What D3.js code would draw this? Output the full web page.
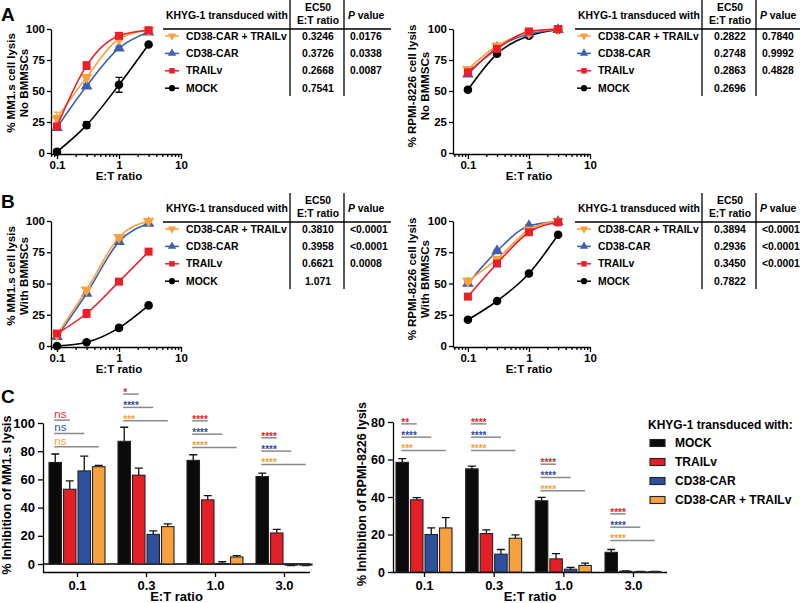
<!DOCTYPE html>
<html>
<head>
<meta charset="utf-8">
<script src="https://cdn.jsdelivr.net/npm/d3@7"></script>
<style>
  body { margin: 0; background: #fff; }
  svg { display: block; }
</style>
</head>
<body>
<svg id="fig" width="800" height="603"></svg>
<script>
// ---- data: dose response (A, B) ----
const ratios = [0.1, 0.3, 1, 3];
const lineSeries = ["CD38-CAR + TRAILv", "CD38-CAR", "TRAILv", "MOCK"];
const lineColors = ["#f8a23f", "#3e5fb2", "#ec1f28", "#000000"];

// rows follow lineSeries order, columns follow ratios
const mm1NoBm = [[28, 61, 92, 99], [20.5, 54, 84.5, 97.5], [21.5, 70.5, 94.5, 99], [1, 22.5, 55, 87.5]];
const mm1NoBmErr = [[5, 2, 1.5, 1], [1.5, 1.5, 1.5, 1], [2, 3, 1.5, 1], [2, 2.5, 6, 1]];
const rpmiNoBm = [[67.5, 86.5, 97, 100], [63.5, 85, 96, 99.5], [65, 84, 98, 100], [51, 80, 94.5, 99.5]];
const rpmiNoBmErr = [[1.5, 1, 1, 0.5], [1.5, 1, 1, 0.5], [1.5, 1, 1, 0.5], [1.5, 1, 1, 0.5]];
const mm1Bm = [[9, 45, 87, 100], [7.5, 42, 83.5, 98], [10, 26, 51.5, 75.5], [0, 3, 14.5, 32.5]];
const mm1BmErr = [[1.5, 1.5, 1.5, 1], [1.5, 1.5, 1.5, 1], [1.5, 3, 1.5, 1], [1, 1, 1, 1]];
const rpmiBm = [[52, 69.5, 93, 100], [50, 76, 96, 99.5], [39.5, 66, 91, 99], [21, 36, 58, 89]];
const rpmiBmErr = [[2, 1.5, 1, 0.5], [1, 1, 1, 0.5], [1, 2, 1, 0.5], [1, 1, 1, 1]];

// EC50 tables
const ec50A1 = ["0.3246", "0.3726", "0.2668", "0.7541"];
const pA1 = ["0.0176", "0.0338", "0.0087", ""];
const ec50A2 = ["0.2822", "0.2748", "0.2863", "0.2696"];
const pA2 = ["0.7840", "0.9992", "0.4828", ""];
const ec50B1 = ["0.3810", "0.3958", "0.6621", "1.071"];
const pB1 = ["<0.0001", "<0.0001", "0.0008", ""];
const ec50B2 = ["0.3894", "0.2936", "0.3450", "0.7822"];
const pB2 = ["<0.0001", "<0.0001", "<0.0001", ""];

// ---- data: inhibition bars (C) ----
const barSeries = ["MOCK", "TRAILv", "CD38-CAR", "CD38-CAR + TRAILv"];
const barColors = ["#0b0b0b", "#e41f26", "#2f4f9f", "#f6a03e"];
const barRatios = ["0.1", "0.3", "1.0", "3.0"];
// rows follow barRatios, columns follow barSeries
const mm1Inhib = [[72, 53, 66, 69], [87, 63, 21, 26.5], [73.5, 45.5, 0.3, 5], [62, 22, -0.8, -0.8]];
const mm1InhibErr = [[6, 6, 10.5, 1], [10, 5, 2.5, 2], [4, 3, 1.3, 1], [2.5, 2.5, 0.3, 0.3]];
const rpmiInhib = [[58.5, 38.5, 20, 23.5], [55, 20.5, 9.5, 18], [38, 7, 1.5, 3.5], [10.5, 0.4, 0.2, 0.2]];
const rpmiInhibErr = [[2, 1.2, 3.5, 5.5], [1.5, 2, 2.5, 1.8], [1.8, 2.8, 1, 1.2], [1.5, 0.2, 0.1, 0.1]];
const mm1Sig = [["ns", "ns", "ns"], ["*", "****", "***"], ["****", "****", "****"], ["****", "****", "****"]];
const rpmiSig = [["**", "****", "***"], ["****", "****", "****"], ["****", "****", "****"], ["****", "****", "****"]];
const mm1SigLevel = [102, 120.5, 101.5, 89.5];
const rpmiSigLevel = [79, 79, 57.5, 31];

// ---- drawing ----
const font = '"Liberation Sans", Arial, Helvetica, sans-serif';
const svg = d3.select("#fig").attr("font-family", font);

function styleAxis(g, size) {
  g.attr("font-family", font).attr("font-size", size).attr("font-weight", "bold");
  g.selectAll("path.domain").attr("stroke", "#000").attr("stroke-width", 1.3);
  g.selectAll(".tick line").attr("stroke", "#000").attr("stroke-width", 1.3);
  g.selectAll(".tick text").attr("fill", "#000");
}

function symbolFor(i, size) {
  const types = [d3.symbolTriangle, d3.symbolTriangle, d3.symbolSquare, d3.symbolCircle];
  return d3.symbol().type(types[i]).size(size)();
}
function symbolRot(i) { return i === 0 ? " rotate(180)" : ""; }

function dosePlot(o) {
  const x = d3.scaleLog().domain([o.xMin, 10]).range([o.left, o.right]);
  const y = d3.scaleLinear().domain([0, 100]).range([o.bottom, o.top]);

  const minor = [0.06, 0.07, 0.08, 0.09, 0.2, 0.3, 0.4, 0.5, 0.6, 0.7, 0.8, 0.9, 2, 3, 4, 5, 6, 7, 8, 9]
    .filter(d => d >= o.xMin);
  const gm = svg.append("g").attr("transform", `translate(0,${o.bottom + 1})`)
    .call(d3.axisBottom(x).tickValues(minor).tickFormat("").tickSize(3).tickSizeOuter(0));
  styleAxis(gm, 11);
  const gx = svg.append("g").attr("transform", `translate(0,${o.bottom + 1})`)
    .call(d3.axisBottom(x).tickValues([0.1, 1, 10]).tickFormat(d3.format("")).tickSize(5).tickSizeOuter(0).tickPadding(2));
  styleAxis(gx, 11.5);
  gx.select(".domain").remove();

  const gy = svg.append("g").attr("transform", `translate(${o.left},0)`)
    .call(d3.axisLeft(y).tickValues([0, 25, 50, 75, 100]).tickSize(4).tickSizeOuter(0).tickPadding(2));
  styleAxis(gy, 11.5);
  gy.select(".domain").attr("d", `M0.5,${o.top + 0.5}V${o.bottom + 1.5}`);

  // axis titles
  svg.append("text").attr("x", (x(0.1) + x(10)) / 2).attr("y", o.bottom + 27)
    .attr("text-anchor", "middle").attr("font-size", 11.5).attr("font-weight", "bold").text("E:T ratio");
  o.title.forEach((t, k) => {
    svg.append("text")
      .attr("transform", `translate(${o.titleX + k * 13},${o.titleY}) rotate(-90)`)
      .attr("text-anchor", "middle").attr("font-size", 11.5).attr("font-weight", "bold").text(t);
  });

  const line = d3.line().x(d => x(d[0])).y(d => y(d[1])).curve(d3.curveMonotoneX);
  [3, 1, 0, 2].forEach(i => {
    const pts = ratios.map((r, j) => [r, o.data[i][j], o.err[i][j]]);
    const g = svg.append("g");
    g.append("path").attr("d", line(pts)).attr("fill", "none")
      .attr("stroke", lineColors[i]).attr("stroke-width", 1.6);
    g.selectAll("path.eb").data(pts).enter().append("path").attr("class", "eb")
      .attr("d", d => `M${x(d[0])},${y(d[1] - d[2])}V${y(d[1] + d[2])}M${x(d[0]) - 3.5},${y(d[1] + d[2])}h7M${x(d[0]) - 3.5},${y(d[1] - d[2])}h7`)
      .attr("stroke", lineColors[i]).attr("stroke-width", 1.3).attr("fill", "none");
    g.selectAll("path.pt").data(pts).enter().append("path").attr("class", "pt")
      .attr("d", symbolFor(i, i === 2 ? 64 : 58))
      .attr("transform", d => `translate(${x(d[0])},${y(d[1])})${symbolRot(i)}`)
      .attr("fill", lineColors[i]);
  });
}

function table(x0, lineY, lineEnd, ec50, pv) {
  const g = svg.append("g").attr("font-size", 10.4).attr("font-weight", "bold").attr("fill", "#000");
  g.append("text").attr("x", x0 + 2).attr("y", lineY - 14).attr("dy", "0.35em").text("KHYG-1 transduced with");
  g.append("text").attr("x", x0 + 154).attr("y", lineY - 22).attr("dy", "0.35em").attr("text-anchor", "middle").text("EC50");
  g.append("text").attr("x", x0 + 154).attr("y", lineY - 9).attr("dy", "0.35em").attr("text-anchor", "middle").text("E:T ratio");
  const pt = g.append("text").attr("x", x0 + 184).attr("y", lineY - 14).attr("dy", "0.35em");
  pt.append("tspan").attr("font-style", "italic").text("P");
  pt.append("tspan").text(" value");

  g.append("line").attr("x1", x0 - 1).attr("x2", lineEnd).attr("y1", lineY).attr("y2", lineY)
    .attr("stroke", "#000").attr("stroke-width", 1.3);
  [126, 180].forEach(dx => {
    g.append("line").attr("x1", x0 + dx).attr("x2", x0 + dx).attr("y1", lineY - 29).attr("y2", lineY + 67)
      .attr("stroke", "#000").attr("stroke-width", 1.3);
  });

  lineSeries.forEach((s, i) => {
    const ry = lineY + 7 + i * 17.4;
    g.append("line").attr("x1", x0 + 1).attr("x2", x0 + 15).attr("y1", ry).attr("y2", ry)
      .attr("stroke", lineColors[i]).attr("stroke-width", 1.5);
    g.append("path").attr("d", symbolFor(i, 30))
      .attr("transform", `translate(${x0 + 8},${ry})${symbolRot(i)}`).attr("fill", lineColors[i]);
    g.append("text").attr("x", x0 + 22).attr("y", ry).attr("dy", "0.35em").text(s);
    g.append("text").attr("x", x0 + 154).attr("y", ry).attr("dy", "0.35em").attr("text-anchor", "middle").text(ec50[i]);
    g.append("text").attr("x", x0 + 186).attr("y", ry).attr("dy", "0.35em").text(pv[i]);
  });
}

function barPlot(o) {
  const y = d3.scaleLinear().domain([o.yMin, o.yMax]).range([o.axisY, o.top]);
  const xg = d3.scalePoint().domain(barRatios).range([o.c0, o.c1]);
  const xs = d3.scaleBand().domain(barSeries).range([-28, 28]).paddingInner(0.14);
  const bw = xs.bandwidth();

  const gy = svg.append("g").attr("transform", `translate(${o.left},0)`)
    .call(d3.axisLeft(y).tickValues(o.ticks).tickSize(5).tickSizeOuter(0).tickPadding(3));
  styleAxis(gy, o.tickSize);
  const gx = svg.append("g").attr("transform", `translate(0,${o.axisY})`)
    .call(d3.axisBottom(xg).tickSize(5).tickSizeOuter(0).tickPadding(4));
  styleAxis(gx, 13);
  gx.select(".domain").attr("d", `M${o.left},0.5H${o.right}`);
  if (o.yMin < 0) {
    svg.append("line").attr("x1", o.left).attr("x2", o.right).attr("y1", y(0)).attr("y2", y(0))
      .attr("stroke", "#000").attr("stroke-width", 1.3);
  }

  svg.append("text").attr("x", (o.left + o.right) / 2).attr("y", o.axisY + 29)
    .attr("text-anchor", "middle").attr("font-size", 13).attr("font-weight", "bold").text("E:T ratio");
  svg.append("text").attr("transform", `translate(${o.titleX},${o.titleY}) rotate(-90)`)
    .attr("text-anchor", "middle").attr("font-size", 12.5).attr("font-weight", "bold").text(o.title);

  barRatios.forEach((r, gi) => {
    const g = svg.append("g").attr("transform", `translate(${xg(r)},0)`);
    barSeries.forEach((s, si) => {
      const v = o.data[gi][si], e = o.err[gi][si];
      const bx = xs(s);
      const top = v >= 0 ? v + e : v - e;
      g.append("path")
        .attr("d", `M${bx + bw / 2},${y(v)}V${y(top)}M${bx + bw / 2 - 4},${y(top)}h8`)
        .attr("stroke", "#111").attr("stroke-width", 1.3).attr("fill", "none");
      g.append("rect").attr("x", bx).attr("width", bw)
        .attr("y", y(Math.max(v, 0))).attr("height", Math.max(Math.abs(y(v) - y(0)), 0.8))
        .attr("fill", barColors[si]).attr("stroke", "#222").attr("stroke-width", 1.1);
    });
    // significance brackets
    const base = y(o.sigLevel[gi]);
    o.sig[gi].forEach((lab, k) => {
      const ly = base + k * 13.3;
      const x1 = xs(barSeries[0]) + bw / 2 - 1, x2 = xs(barSeries[k + 1]) + bw / 2;
      g.append("line").attr("x1", x1).attr("x2", x2).attr("y1", ly).attr("y2", ly)
        .attr("stroke", "#8a8a8a").attr("stroke-width", 1.5);
      const ns = lab === "ns";
      g.append("text").attr("x", x1).attr("y", ns ? ly - 2 : ly + 2)
        .attr("font-size", ns ? 11.5 : 10).attr("font-weight", ns ? "normal" : "bold")
        .attr("fill", barColors[k + 1]).text(lab);
    });
  });
}

// panel letters
[["A", 21], ["B", 208], ["C", 403]].forEach(([t, yy]) => {
  svg.append("text").attr("x", 1).attr("y", yy).attr("font-size", 19).attr("font-weight", "bold").text(t);
});

dosePlot({ left: 51, right: 181, xMin: 0.08, top: 29, bottom: 153, data: mm1NoBm, err: mm1NoBmErr,
  title: ["% MM1.s cell lysis", "No BMMSCs"], titleX: 15, titleY: 83 });
dosePlot({ left: 453, right: 590, xMin: 0.057, top: 29, bottom: 153, data: rpmiNoBm, err: rpmiNoBmErr,
  title: ["% RPMI-8226 cell lysis", "No BMMSCs"], titleX: 416, titleY: 86 });
dosePlot({ left: 51, right: 181, xMin: 0.08, top: 221, bottom: 346, data: mm1Bm, err: mm1BmErr,
  title: ["% MM1.s cell lysis", "With BMMSCs"], titleX: 15, titleY: 276 });
dosePlot({ left: 453, right: 590, xMin: 0.057, top: 221, bottom: 346, data: rpmiBm, err: rpmiBmErr,
  title: ["% RPMI-8226 cell lysis", "With BMMSCs"], titleX: 416, titleY: 279 });

table(164, 29, 391, ec50A1, pA1);
table(576, 29, 800, ec50A2, pA2);
table(164, 222, 391, ec50B1, pB1);
table(576, 222, 800, ec50B2, pB2);

barPlot({ left: 43, right: 310, axisY: 572, top: 423, yMin: -5.67, yMax: 100, ticks: [0, 20, 40, 60, 80, 100],
  c0: 77, c1: 284, data: mm1Inhib, err: mm1InhibErr, sig: mm1Sig, sigLevel: mm1SigLevel, tickSize: 13,
  title: "% Inhibition of MM1.s lysis", titleX: 11, titleY: 495 });
barPlot({ left: 393, right: 667, axisY: 572, top: 422, yMin: 0, yMax: 80, ticks: [0, 20, 40, 60, 80],
  c0: 424, c1: 633, data: rpmiInhib, err: rpmiInhibErr, sig: rpmiSig, sigLevel: rpmiSigLevel, tickSize: 12.5,
  title: "% Inhibition of RPMI-8226 lysis", titleX: 366, titleY: 494 });

// legend C
const leg = svg.append("g").attr("font-size", 12).attr("font-weight", "bold");
leg.append("text").attr("x", 648).attr("y", 425).attr("dy", "0.35em").text("KHYG-1 transduced with:");
barSeries.forEach((s, i) => {
  const ly = 443 + i * 19;
  leg.append("rect").attr("x", 650).attr("y", ly - 3.5).attr("width", 15).attr("height", 7)
    .attr("fill", barColors[i]).attr("stroke", "#222").attr("stroke-width", 1.1);
  leg.append("text").attr("x", 675).attr("y", ly).attr("dy", "0.35em").text(s);
});
</script>
</body>
</html>
